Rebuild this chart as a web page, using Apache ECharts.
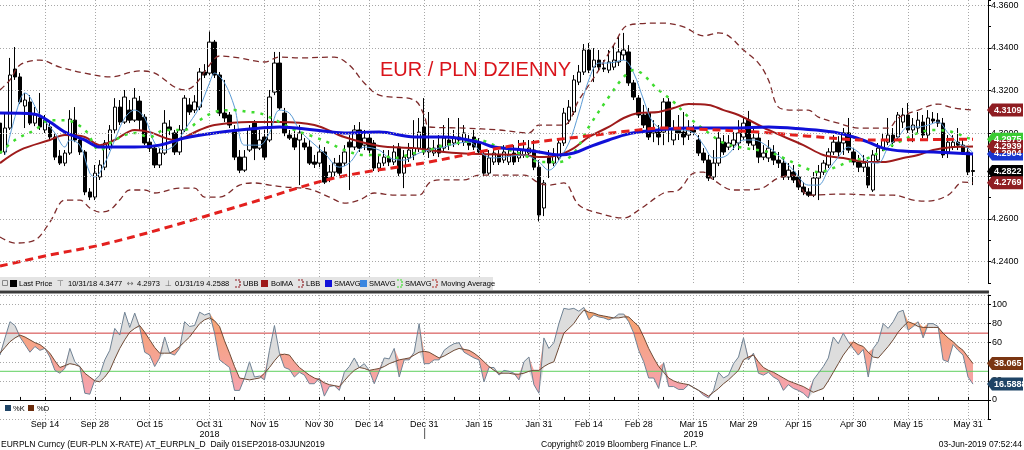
<!DOCTYPE html>
<html>
<head>
<meta charset="utf-8">
<script src="https://cdn.jsdelivr.net/npm/echarts@6.0.0/dist/echarts.min.js"></script>
<style>
html,body{margin:0;padding:0;background:#fff;}
#chart{width:1024px;height:450px;}
</style>
</head>
<body>
<div id="chart"></div>
<script>
// ================= DATA =================
const firstDay = '2018-09-03';          // first trading day shown
const dayCount = 199;                    // weekdays on the axis (incl. 3 empty after last bar)

const tickDates  = ['2018-09-14','2018-09-28','2018-10-15','2018-10-31','2018-11-15','2018-11-30','2018-12-14','2018-12-31','2019-01-15','2019-01-31','2019-02-14','2019-02-28','2019-03-15','2019-03-29','2019-04-15','2019-04-30','2019-05-15','2019-05-31'];
const tickLabels = ['Sep 14','Sep 28','Oct 15','Oct 31\n2018','Nov 15','Nov 30','Dec 14','Dec 31','Jan 15','Jan 31','Feb 14','Feb 28','Mar 15\n2019','Mar 29','Apr 15','Apr 30','May 15','May 31'];
const minorTickDates = ['2018-09-07','2018-09-21','2018-10-05','2018-10-23','2018-11-07','2018-11-22','2018-12-07','2018-12-21','2019-01-08','2019-01-23','2019-02-07','2019-02-21','2019-03-07','2019-03-22','2019-04-05','2019-04-22','2019-05-07','2019-05-23'];

const priceGridLevels = [4.24,4.26,4.28,4.30,4.32,4.34,4.36];

const opens = [4.3048,4.2913,4.3025,4.3301,4.3264,4.3128,4.3147,4.3048,4.3072,4.3016,
4.3030,4.2983,4.2894,4.2861,4.2908,4.3062,4.2969,4.2913,4.2726,4.2702,
4.2796,4.2842,4.2936,4.3016,4.3123,4.3053,4.3109,4.3062,4.3151,4.3076,
4.2959,4.2931,4.2852,4.2908,4.3030,4.3002,4.2913,4.3016,4.3133,4.3109,
4.3123,4.3287,4.3282,4.3427,4.3273,4.3095,4.3086,4.3016,4.2889,4.2828,
4.2922,4.3048,4.2931,4.2983,4.2969,4.3193,4.3329,4.3095,4.2992,4.2978,
4.2969,4.2955,4.2936,4.2866,4.2861,4.2913,4.2791,4.2819,4.2861,4.2861,
4.2959,4.2936,4.3016,4.2945,4.2978,4.2955,4.2838,4.2861,4.2885,4.2866,
4.2936,4.2814,4.2885,4.2899,4.2931,4.3030,4.2913,4.2908,4.2945,4.2931,
4.2969,4.2955,4.2983,4.2959,4.2959,4.2983,4.2955,4.2899,4.2814,4.2866,
4.2899,4.2875,4.2866,4.2908,4.2885,4.2899,4.2908,4.2922,4.2842,4.2651,
4.2889,4.2861,4.2885,4.2955,4.3062,4.3100,4.3240,4.3287,4.3390,4.3310,
4.3343,4.3306,4.3296,4.3310,4.3334,4.3367,4.3381,4.3236,4.3165,4.3086,
4.3095,4.3002,4.3006,4.3006,4.3147,4.2969,4.3016,4.3006,4.2992,4.3016,
4.2969,4.2908,4.2875,4.2796,4.2861,4.2959,4.2936,4.2945,4.2955,4.2983,
4.3062,4.2945,4.2978,4.2889,4.2885,4.2913,4.2875,4.2861,4.2796,4.2819,
4.2796,4.2749,4.2726,4.2711,4.2791,4.2819,4.2852,4.2913,4.2959,4.2955,
4.3002,4.2913,4.2866,4.2842,4.2842,4.2735,4.2875,4.2931,4.2959,4.2992,
4.2983,4.3053,4.3086,4.3016,4.3025,4.3053,4.2992,4.3067,4.3062,4.3048,
4.2913,4.2936,4.2959,4.2945,4.2913,4.2826];
const closes = [4.2908,4.3025,4.3273,4.3264,4.3147,4.3156,4.3048,4.3086,4.3030,4.3062,
4.2983,4.2889,4.2861,4.2908,4.3067,4.2969,4.2913,4.2726,4.2702,4.2814,
4.2852,4.2955,4.3016,4.3123,4.3053,4.3170,4.3062,4.3165,4.3062,4.2955,
4.2931,4.2852,4.2908,4.3048,4.3016,4.2913,4.3016,4.3165,4.3100,4.3147,
4.3287,4.3273,4.3427,4.3273,4.3095,4.3072,4.3039,4.2889,4.2828,4.2889,
4.3016,4.2931,4.2969,4.2889,4.3170,4.3329,4.3119,4.3002,4.2978,4.2936,
4.3002,4.2936,4.2861,4.2856,4.2913,4.2772,4.2819,4.2861,4.2814,4.2913,
4.2936,4.3016,4.2931,4.2978,4.2922,4.2838,4.2861,4.2889,4.2866,4.2913,
4.2814,4.2889,4.2922,4.2931,4.3006,4.2913,4.2931,4.2931,4.2908,4.2978,
4.2945,4.2983,4.2969,4.3002,4.2945,4.2936,4.2913,4.2814,4.2885,4.2908,
4.2866,4.2913,4.2899,4.2866,4.2922,4.2922,4.2931,4.2842,4.2618,4.2768,
4.2861,4.2899,4.2955,4.3095,4.3123,4.3250,4.3287,4.3390,4.3296,4.3343,
4.3310,4.3301,4.3334,4.3343,4.3381,4.3390,4.3236,4.3170,4.3086,4.3039,
4.2983,4.3016,4.2983,4.3147,4.3030,4.3016,4.3002,4.2983,4.3016,4.3006,
4.2908,4.2875,4.2791,4.2861,4.2978,4.2913,4.2955,4.2969,4.3002,4.3048,
4.2955,4.2978,4.2889,4.2908,4.2931,4.2875,4.2861,4.2796,4.2828,4.2782,
4.2749,4.2726,4.2711,4.2791,4.2819,4.2861,4.2913,4.2959,4.2913,4.3002,
4.2922,4.2866,4.2842,4.2861,4.2758,4.2899,4.2931,4.2969,4.2992,4.2959,
4.3086,4.3086,4.3016,4.3039,4.3062,4.2992,4.3072,4.3058,4.3048,4.2899,
4.2959,4.2959,4.2945,4.2913,4.2819,4.2822];
const lows = [4.2889,4.2899,4.3016,4.3250,4.3137,4.3025,4.3039,4.3034,4.3016,4.3002,
4.2969,4.2875,4.2852,4.2847,4.2899,4.2959,4.2899,4.2711,4.2688,4.2688,
4.2782,4.2828,4.2922,4.3002,4.3039,4.3044,4.3048,4.3053,4.3016,4.2945,
4.2913,4.2838,4.2838,4.2899,4.2992,4.2899,4.2899,4.3006,4.3086,4.3095,
4.3109,4.3259,4.3273,4.3259,4.3081,4.3053,4.3025,4.2875,4.2814,4.2819,
4.2913,4.2875,4.2922,4.2875,4.2959,4.3179,4.3109,4.2987,4.2969,4.2922,
4.2758,4.2922,4.2852,4.2838,4.2842,4.2763,4.2772,4.2800,4.2796,4.2847,
4.2735,4.2922,4.2913,4.2922,4.2908,4.2824,4.2819,4.2847,4.2847,4.2852,
4.2800,4.2744,4.2866,4.2875,4.2913,4.2899,4.2885,4.2894,4.2889,4.2913,
4.2922,4.2936,4.2945,4.2941,4.2922,4.2922,4.2899,4.2800,4.2805,4.2852,
4.2852,4.2861,4.2852,4.2852,4.2866,4.2885,4.2889,4.2828,4.2588,4.2613,
4.2791,4.2847,4.2875,4.2941,4.3044,4.3086,4.3226,4.3273,4.3282,4.3240,
4.3296,4.3287,4.3282,4.3296,4.3315,4.3343,4.3222,4.3156,4.3072,4.3025,
4.2969,4.2959,4.2945,4.2945,4.2959,4.2945,4.2969,4.2945,4.2969,4.2992,
4.2894,4.2861,4.2777,4.2782,4.2847,4.2899,4.2922,4.2922,4.2922,4.2969,
4.2941,4.2922,4.2861,4.2875,4.2866,4.2852,4.2838,4.2782,4.2782,4.2768,
4.2735,4.2711,4.2702,4.2702,4.2688,4.2805,4.2838,4.2899,4.2885,4.2899,
4.2908,4.2852,4.2819,4.2819,4.2744,4.2726,4.2861,4.2917,4.2945,4.2936,
4.2969,4.3025,4.3002,4.2959,4.3002,4.2978,4.2969,4.3044,4.3030,4.2885,
4.2885,4.2922,4.2922,4.2899,4.2805,4.2758];
const highs = [4.3086,4.3095,4.3353,4.3404,4.3282,4.3189,4.3179,4.3123,4.3189,4.3086,
4.3053,4.3002,4.2922,4.2922,4.3109,4.3123,4.2983,4.2922,4.2744,4.2852,
4.2875,4.2969,4.3039,4.3165,4.3156,4.3203,4.3156,4.3212,4.3175,4.3090,
4.2978,4.2945,4.2931,4.3109,4.3062,4.3016,4.3039,4.3179,4.3165,4.3179,
4.3306,4.3324,4.3477,4.3437,4.3287,4.3250,4.3100,4.3039,4.2922,4.2922,
4.3039,4.3062,4.3016,4.3016,4.3203,4.3381,4.3381,4.3119,4.3016,4.3025,
4.3039,4.2978,4.2969,4.2899,4.2945,4.2936,4.2852,4.2885,4.2899,4.2945,
4.2992,4.3039,4.3053,4.3016,4.3002,4.2969,4.2899,4.2922,4.2922,4.2945,
4.2955,4.2922,4.2955,4.3062,4.3072,4.3165,4.3100,4.2969,4.2992,4.3039,
4.3072,4.3016,4.3072,4.3039,4.2992,4.3016,4.2978,4.2922,4.2922,4.2931,
4.2922,4.2945,4.2931,4.2945,4.2969,4.2969,4.2969,4.2969,4.2875,4.2782,
4.2922,4.2931,4.2978,4.3119,4.3156,4.3273,4.3320,4.3418,4.3423,4.3399,
4.3390,4.3343,4.3390,4.3413,4.3451,4.3470,4.3413,4.3250,4.3179,4.3133,
4.3119,4.3062,4.3039,4.3165,4.3165,4.3062,4.3086,4.3100,4.3062,4.3039,
4.2992,4.2931,4.2899,4.2922,4.3006,4.2992,4.2992,4.3006,4.3062,4.3072,
4.3105,4.3025,4.3002,4.2945,4.2969,4.2945,4.2913,4.2885,4.2861,4.2852,
4.2828,4.2772,4.2744,4.2819,4.2852,4.2875,4.2931,4.2992,4.2987,4.3025,
4.3072,4.2931,4.2899,4.2899,4.2875,4.2922,4.2955,4.3002,4.3072,4.3025,
4.3100,4.3119,4.3142,4.3072,4.3100,4.3086,4.3109,4.3100,4.3095,4.3072,
4.2992,4.2992,4.3025,4.2969,4.2931,4.2899];

// studies: [trading-day index, value]
const bbUpper = [[0,4.3203],[2,4.3250],[4,4.3320],[8,4.3343],[12,4.3310],[17,4.3282],[22,4.3264],[28,4.3292],[31,4.3282],[35,4.3217],[37,4.3203],[39,4.3226],[42,4.3320],[44,4.3362],[48,4.3353],[53,4.3334],[56,4.3357],[60,4.3353],[67,4.3357],[70,4.3320],[73,4.3236],[76,4.3179],[83,4.3156],[85,4.3086],[86,4.3030],[93,4.3025],[100,4.3016],[106,4.3002],[108,4.3039],[113,4.3039],[116,4.3156],[120,4.3296],[123,4.3413],[126,4.3507],[133,4.3516],[137,4.3498],[141,4.3456],[144,4.3470],[146,4.3456],[149,4.3390],[152,4.3329],[154,4.3250],[156,4.3123],[159,4.3109],[162,4.3109],[164,4.3076],[168,4.3048],[172,4.3025],[178,4.3025],[180,4.3072],[184,4.3109],[188,4.3137],[191,4.3119],[195,4.3109]];
const bbLower = [[0,4.2515],[3,4.2487],[7,4.2501],[10,4.2585],[13,4.2688],[16,4.2688],[18,4.2651],[20,4.2632],[22,4.2641],[24,4.2688],[26,4.2735],[29,4.2735],[31,4.2721],[36,4.2744],[39,4.2744],[41,4.2702],[44,4.2702],[48,4.2758],[51,4.2768],[54,4.2758],[57,4.2749],[62,4.2739],[66,4.2702],[69,4.2674],[72,4.2688],[75,4.2721],[79,4.2711],[84,4.2711],[86,4.2768],[88,4.2782],[93,4.2782],[96,4.2805],[105,4.2805],[108,4.2768],[110,4.2758],[113,4.2768],[116,4.2665],[120,4.2627],[125,4.2604],[128,4.2641],[133,4.2721],[136,4.2735],[139,4.2814],[141,4.2819],[143,4.2782],[147,4.2735],[152,4.2739],[156,4.2791],[159,4.2805],[162,4.2711],[169,4.2716],[176,4.2711],[179,4.2711],[183,4.2688],[186,4.2683],[190,4.2711],[193,4.2772],[195,4.2769]];
const bbMid = [[0,4.2861],[4,4.2922],[10,4.2969],[13,4.2992],[17,4.2983],[20,4.2945],[23,4.2969],[27,4.3016],[30,4.3006],[35,4.2969],[40,4.3016],[43,4.3039],[50,4.3053],[56,4.3053],[63,4.3039],[69,4.2983],[76,4.2941],[83,4.2931],[89,4.2913],[96,4.2903],[105,4.2899],[108,4.2889],[112,4.2899],[115,4.2931],[118,4.2983],[122,4.3030],[125,4.3072],[128,4.3095],[132,4.3100],[135,4.3119],[138,4.3137],[142,4.3133],[145,4.3109],[148,4.3086],[154,4.3016],[161,4.2945],[165,4.2899],[169,4.2885],[174,4.2866],[177,4.2866],[181,4.2885],[184,4.2899],[187,4.2922],[191,4.2936],[195,4.2939]];
const smaBlue = [[0,4.3095],[7,4.3090],[10,4.3053],[13,4.3006],[17,4.2969],[20,4.2936],[27,4.2936],[32,4.2945],[37,4.2978],[43,4.3002],[50,4.3020],[56,4.3030],[63,4.3016],[69,4.3002],[76,4.3006],[83,4.2983],[89,4.2983],[96,4.2959],[99,4.2936],[105,4.2922],[108,4.2913],[112,4.2899],[115,4.2908],[118,4.2936],[122,4.2969],[125,4.2992],[128,4.3006],[132,4.3016],[138,4.3025],[147,4.3025],[154,4.3030],[161,4.3020],[167,4.3006],[171,4.2983],[174,4.2959],[177,4.2931],[181,4.2917],[187,4.2913],[195,4.2904]];
const smaGreen = [[0,4.2908],[3,4.2969],[7,4.3016],[10,4.3062],[13,4.3062],[17,4.3016],[20,4.2922],[23,4.2969],[27,4.3002],[30,4.2983],[33,4.3016],[37,4.3016],[40,4.3062],[43,4.3100],[47,4.3109],[50,4.3100],[52,4.3095],[56,4.3053],[59,4.3016],[63,4.2983],[66,4.2955],[69,4.2922],[73,4.2899],[76,4.2899],[79,4.2885],[83,4.2908],[86,4.2922],[89,4.2945],[93,4.2959],[96,4.2969],[99,4.2945],[105,4.2899],[108,4.2866],[112,4.2866],[115,4.2908],[118,4.3030],[122,4.3170],[125,4.3264],[127,4.3296],[132,4.3203],[135,4.3147],[138,4.3076],[142,4.3002],[145,4.2955],[148,4.2936],[154,4.2913],[157,4.2885],[161,4.2842],[164,4.2819],[167,4.2838],[171,4.2875],[174,4.2885],[177,4.2922],[181,4.2969],[184,4.3002],[187,4.3016],[191,4.3006],[194,4.2978],[195,4.2973]];
const smaLight = [[1,4.2899],[4,4.3156],[5,4.3189],[8,4.3086],[11,4.3002],[13,4.2936],[14,4.2969],[16,4.2945],[18,4.2814],[19,4.2796],[21,4.2861],[23,4.2969],[25,4.3072],[27,4.3109],[29,4.3072],[31,4.2955],[33,4.2922],[35,4.2945],[37,4.3016],[40,4.3123],[42,4.3236],[43,4.3282],[45,4.3236],[47,4.3123],[49,4.2945],[52,4.2945],[54,4.3002],[56,4.3109],[58,4.3095],[60,4.3016],[62,4.2969],[65,4.2908],[68,4.2842],[70,4.2861],[73,4.2936],[76,4.2922],[78,4.2885],[81,4.2875],[84,4.2908],[86,4.2922],[89,4.2936],[92,4.2955],[94,4.2959],[97,4.2899],[99,4.2885],[101,4.2889],[105,4.2899],[108,4.2866],[110,4.2828],[111,4.2842],[114,4.2955],[116,4.3095],[118,4.3250],[120,4.3329],[122,4.3329],[125,4.3343],[127,4.3282],[129,4.3156],[131,4.3048],[134,4.3016],[136,4.3016],[139,4.3002],[141,4.2945],[143,4.2885],[145,4.2889],[148,4.2955],[149,4.2969],[151,4.2969],[154,4.2936],[157,4.2875],[159,4.2828],[162,4.2758],[164,4.2758],[166,4.2828],[168,4.2889],[170,4.2936],[172,4.2913],[174,4.2866],[176,4.2861],[178,4.2936],[180,4.2983],[182,4.3030],[184,4.3030],[186,4.3039],[188,4.3053],[190,4.3002],[192,4.2955],[194,4.2931],[195,4.2908]];
const ma200 = [[0,4.2379],[10,4.2431],[20,4.2477],[33,4.2557],[50,4.2674],[67,4.2791],[86,4.2866],[98,4.2922],[106,4.2955],[116,4.2983],[126,4.3011],[133,4.3025],[140,4.3020],[152,4.3006],[162,4.2987],[174,4.2969],[195,4.2973]];

const stochK = [47,65,82,78,66,58,50,56,52,54,
45,31,28,33,54,40,35,7,6,21,
26,42,52,75,68,92,76,91,76,50,
47,35,44,66,49,47,54,82,77,78,
92,89,91,70,42,38,34,10,10,23,
40,24,25,21,52,78,49,34,32,24,
29,26,17,17,23,4,14,15,10,29,
35,44,34,38,31,17,30,44,43,54,
24,42,42,50,80,38,38,42,42,52,
56,59,60,50,47,44,42,19,34,34,
26,31,30,28,21,40,45,16,7,65,
54,60,80,96,95,96,93,97,84,89,
87,86,84,86,90,90,82,70,52,40,
23,23,12,39,14,14,11,11,16,13,
10,5,2,10,29,23,26,38,45,65,
42,49,28,26,29,24,21,10,16,12,
10,7,2,21,28,35,44,66,59,70,
61,54,47,53,24,54,61,80,75,82,
92,94,73,77,82,65,80,80,77,42,
40,58,52,47,24,16.5888];
const stochD = [49,55,61,65,68,66,63,60,58,54,
49,41,34,36,38,37,35,28,24,20,
19,24,31,43,54,63,71,75,78,71,
63,55,49,49,49,52,56,61,66,73,
80,84,86,83,77,62,49,35,23,22,
21,22,23,28,34,41,47,48,47,40,
34,30,26,23,21,18,16,15,14,20,
26,31,34,33,31,32,33,35,38,40,
42,43,44,47,50,51,50,47,44,46,
49,52,54,53,52,49,45,40,35,31,
28,28,28,27,27,28,30,31,31,35,
38,40,55,70,75,80,88,94,92,91,
89,88,87,86,86,87,87,82,77,66,
54,44,35,29,23,20,18,17,16,13,
10,7,4,8,12,17,21,26,31,42,
45,47,40,34,31,29,26,23,20,18,
16,14,11,8,10,12,20,29,38,47,
54,61,58,56,50,45,44,50,56,63,
71,77,82,80,77,76,76,76,76,70,
65,61,56,52,45,38.065];
const stochUpperLevel = 70;
const stochLowerLevel = 30;

const priceTagValues = [4.3109, 4.2973, 4.2904, 4.2939, 4.2822, 4.2769];
const priceTagTexts  = ['4.3109','4.2975','4.2904','4.2939','4.2822','4.2769'];
const stochTagValues = [38.065, 16.5888];
const stochTagTexts  = ['38.065','16.5888'];

const legendTexts = ['Last Price','10/31/18 4.3477','4.2973','01/31/19 4.2588','UBB','BolMA','LBB','SMAVG','SMAVG','SMAVG','Moving Average'];
const footerLeft = 'EURPLN Curncy (EUR-PLN X-RATE) AT_EURPLN_D  Daily 01SEP2018-03JUN2019';
const footerMid = 'Copyright\u00a9 2019 Bloomberg Finance L.P.';
const footerRight = '03-Jun-2019 07:52:44';
const titleText = 'EUR / PLN DZIENNY';

// ================= BUILD =================
const days = [];
(function(){
  const d = new Date(firstDay + 'T00:00:00Z');
  while (days.length < dayCount) {
    const wd = d.getUTCDay();
    if (wd > 0 && wd < 6) days.push(d.toISOString().slice(0,10));
    d.setUTCDate(d.getUTCDate() + 1);
  }
})();
const idxOf = {}; days.forEach((d,i)=>idxOf[d]=i);
const labelIdx = new Set(tickDates.map(d=>idxOf[d]));
const labelText = {}; tickDates.forEach((d,k)=>labelText[d]=tickLabels[k]);
const tickIdx = new Set(tickDates.concat(minorTickDates).map(d=>idxOf[d]));

const candles = opens.map((o,i)=>[o, closes[i], lows[i], highs[i]]);
const stBase = stochK.map((k,i)=>Math.min(k, stochD[i]));
const stUp = stochK.map((k,i)=>Math.max(k - stochD[i], 0));
const stDn = stochK.map((k,i)=>Math.max(stochD[i] - k, 0));

const FONT = '"Liberation Sans", Arial, sans-serif';
const gridDot = {type:[1,2], color:'#a8a8a8', width:1};

const line = (data, color, width, type, extra) => Object.assign({
  type:'line', xAxisIndex:0, yAxisIndex:0, data, symbol:'none', smooth:0.35,
  lineStyle:{color, width, type: type||'solid'}, itemStyle:{color}, silent:true, z:3
}, extra||{});

// horizontal reference level across the oscillator panel (two end points)
const levelLine = (v, color) => ({type:'line', xAxisIndex:1, yAxisIndex:1,
  data:[[0, v], [dayCount-1, v]], symbol:'none', silent:true, z:5,
  color, itemStyle:{color}, lineStyle:{color, width:1, type:'solid'}});

const option = {
  animation:false,
  backgroundColor:'#ffffff',
  grid:[
    {left:0, right:36, top:0, height:283},
    {left:0, right:36, top:295, height:124}
  ],
  xAxis:[
    {type:'category', gridIndex:0, data:days, boundaryGap:false,
     axisLine:{show:false}, axisTick:{show:false}, axisLabel:{show:false},
     splitLine:{show:true, interval:(i)=>labelIdx.has(i), lineStyle:gridDot}},
    {type:'category', gridIndex:1, data:days, boundaryGap:false,
     axisLine:{show:true, lineStyle:{color:'#000', width:1}},
     axisTick:{show:true, interval:(i)=>tickIdx.has(i), length:3, inside:true, lineStyle:{color:'#000'}},
     axisLabel:{show:true, interval:(i)=>labelIdx.has(i), formatter:(v)=>labelText[v]||'',
       fontFamily:FONT, fontSize:9, color:'#000', margin:1, lineHeight:10},
     splitLine:{show:true, interval:(i)=>labelIdx.has(i), lineStyle:gridDot}}
  ],
  yAxis:[
    {type:'value', gridIndex:0, position:'right', min:4.23, max:4.3624, interval:0.01, scale:true,
     axisLine:{show:true, lineStyle:{color:'#000'}},
     axisTick:{show:true, length:3, lineStyle:{color:'#000'}},
     axisLabel:{fontFamily:FONT, fontSize:9, color:'#000', margin:3,
       formatter:(v)=> Math.abs(v*50 - Math.round(v*50))<1e-6 ? v.toFixed(4) : ''},
     splitLine:{show:false}},
    {type:'value', gridIndex:1, position:'right', min:-20, max:110, interval:20,
     axisLine:{show:true, lineStyle:{color:'#000'}},
     axisTick:{show:true, length:3, lineStyle:{color:'#000'}},
     axisLabel:{fontFamily:FONT, fontSize:9, color:'#000', margin:4,
       formatter:(v)=> (v>=0 && v<=100) ? String(v) : ''},
     splitLine:{show:true, lineStyle:gridDot}}
  ],
  series:[
    {type:'line', xAxisIndex:0, yAxisIndex:0, data:[], silent:true, z:1,
     markLine:{silent:true, symbol:'none', label:{show:false}, lineStyle:gridDot,
       data: priceGridLevels.map(v=>({yAxis:v}))}},
    {type:'candlestick', xAxisIndex:0, yAxisIndex:0, data:candles, barWidth:4, z:2, silent:true,
     itemStyle:{color:'#ffffff', color0:'#000000', borderColor:'#000000', borderColor0:'#000000', borderWidth:1}},
    line(bbUpper, '#7d2a2a', 1.3, [6,4]),
    line(bbLower, '#7d2a2a', 1.3, [6,4]),
    line(bbMid, '#9e1b1b', 2),
    line(smaLight, '#5b9bd5', 1),
    line(smaGreen, '#3fdc2f', 2.5, [3,6]),
    line(smaBlue, '#1010d8', 3),
    line(ma200, '#e3201e', 3, [8,5]),
    // stochastic fill between %K and %D
    {type:'line', xAxisIndex:1, yAxisIndex:1, data:stBase, stack:'st', symbol:'none', silent:true,
     lineStyle:{width:0, opacity:0}},
    {type:'line', xAxisIndex:1, yAxisIndex:1, data:stUp, stack:'st', symbol:'none', silent:true,
     lineStyle:{width:0, opacity:0}, areaStyle:{color:'#dddddd', opacity:1}},
    {type:'line', xAxisIndex:1, yAxisIndex:1, data:stDn, stack:'st', symbol:'none', silent:true,
     lineStyle:{width:0, opacity:0},
     areaStyle:{opacity:1, color:{type:'linear', x:0, y:305, x2:0, y2:400, global:true,
       colorStops:[{offset:0,color:'#f7a468'},{offset:1,color:'#f5a3b6'}]}}},
    levelLine(stochUpperLevel, '#d03a3a'),
    levelLine(stochLowerLevel, '#5fd05f'),
    {type:'line', xAxisIndex:1, yAxisIndex:1, data:stochK, symbol:'none', silent:true,
     lineStyle:{color:'#6f8294', width:1}, z:6},
    {type:'line', xAxisIndex:1, yAxisIndex:1, data:stochD, symbol:'none', silent:true,
     lineStyle:{color:'#6e4a35', width:1}, z:6}
  ]
};

const chart = echarts.init(document.getElementById('chart'), null, {renderer:'canvas'});
chart.setOption(option);

// ---------- overlay text & tags (positions from the chart's own scales) ----------
const axisX = chart.convertToPixel({xAxisIndex:0}, dayCount-1);
const g = [];
function tag(y, text, bg, fg){
  const x = axisX;
  g.push({type:'polygon', z:100, shape:{points:[[x-1,y],[x+4,y-6.5],[x+35,y-6.5],[x+35,y+6.5],[x+4,y+6.5]]}, style:{fill:bg}});
  g.push({type:'text', z:101, x:x+6, y:y, style:{text, fill:fg, font:'bold 9px '+FONT, verticalAlign:'middle'}});
}
const priceTagColors = ['#8f1d22','#3acb32','#1836cf','#8f1d22','#000000','#8f1d22'];
priceTagValues.forEach((v,k)=>tag(chart.convertToPixel({yAxisIndex:0}, v), priceTagTexts[k], priceTagColors[k], '#fff'));
const stochTagColors = ['#7a3512','#1f4466'];
stochTagValues.forEach((v,k)=>tag(chart.convertToPixel({yAxisIndex:1}, v), stochTagTexts[k], stochTagColors[k], '#fff'));

// separator between panels
g.push({type:'rect', z:50, shape:{x:0, y:290.5, width:axisX+1, height:3}, style:{fill:'#3a3a3a'}});

// legend bar (upper panel)
g.push({type:'rect', z:60, shape:{x:0, y:277, width:493, height:13}, style:{fill:'#e4e4e4'}});
const lf = '7.5px '+FONT, ly = 283.5;
const txt = (x, t, col, f) => g.push({type:'text', z:62, x, y:ly, style:{text:t, fill:col||'#000', font:f||lf, verticalAlign:'middle'}});
g.push({type:'rect', z:61, shape:{x:2.5, y:280.5, width:5, height:5}, style:{fill:'none', stroke:'#888', lineWidth:1}});
g.push({type:'rect', z:61, shape:{x:10, y:280, width:7, height:7}, style:{fill:'#000'}});
txt(19, legendTexts[0]);
txt(57, '\u22a4', '#666', '8px "DejaVu Sans"');
txt(68, legendTexts[1]);
txt(127, '\u2194', '#666', '8px "DejaVu Sans"');
txt(137, legendTexts[2]);
txt(165, '\u22a5', '#666', '8px "DejaVu Sans"');
txt(175, legendTexts[3]);
const bracket = (x, col, dash) => g.push({type:'polyline', z:61, shape:{points:[[x,280],[x+5,280],[x+5,287],[x,287]]}, style:{stroke:col, lineWidth:1.2, fill:'none', lineDash:dash||null}});
bracket(235, '#8f1d22', [2,1]);
txt(243, legendTexts[4]);
g.push({type:'rect', z:61, shape:{x:261, y:280, width:7, height:7}, style:{fill:'#9e1b1b'}});
txt(271, legendTexts[5]);
bracket(298, '#8f1d22', [2,1]);
txt(306, legendTexts[6]);
g.push({type:'rect', z:61, shape:{x:325, y:280, width:7, height:7}, style:{fill:'#1010d8'}});
txt(334, legendTexts[7]);
g.push({type:'rect', z:61, shape:{x:360, y:280, width:7, height:7}, style:{fill:'#3a86e0'}});
txt(369, legendTexts[8]);
bracket(397, '#3fdc2f', [2,1]);
txt(405, legendTexts[9]);
bracket(432, '#b0302a', [2,1]);
txt(441, legendTexts[10]);

// stochastic legend
g.push({type:'rect', z:61, shape:{x:5, y:405, width:6, height:6}, style:{fill:'#1f4466'}});
g.push({type:'text', z:62, x:13, y:408.5, style:{text:'%K', fill:'#000', font:'7.5px '+FONT, verticalAlign:'middle'}});
g.push({type:'rect', z:61, shape:{x:28, y:405, width:6, height:6}, style:{fill:'#6b2c0c'}});
g.push({type:'text', z:62, x:37, y:408.5, style:{text:'%D', fill:'#000', font:'7.5px '+FONT, verticalAlign:'middle'}});

// year divider below axis
const xDec31 = chart.convertToPixel({xAxisIndex:1}, '2018-12-31');
g.push({type:'line', z:62, shape:{x1:xDec31+0.5, y1:428, x2:xDec31+0.5, y2:439}, style:{stroke:'#555', lineWidth:1}});

// title
g.push({type:'text', z:62, x:380, y:70, style:{text:titleText, fill:'#d9141b', font:'20px '+FONT, verticalAlign:'middle'}});

// footer
const ff = '8.5px '+FONT;
g.push({type:'text', z:62, x:1, y:444.5, style:{text:footerLeft, fill:'#000', font:ff, verticalAlign:'middle'}});
g.push({type:'text', z:62, x:541, y:444.5, style:{text:footerMid, fill:'#000', font:ff, verticalAlign:'middle'}});
g.push({type:'text', z:62, x:1022, y:444.5, style:{text:footerRight, fill:'#000', font:ff, verticalAlign:'middle', align:'right'}});

chart.setOption({graphic:g});
</script>
</body>
</html>
